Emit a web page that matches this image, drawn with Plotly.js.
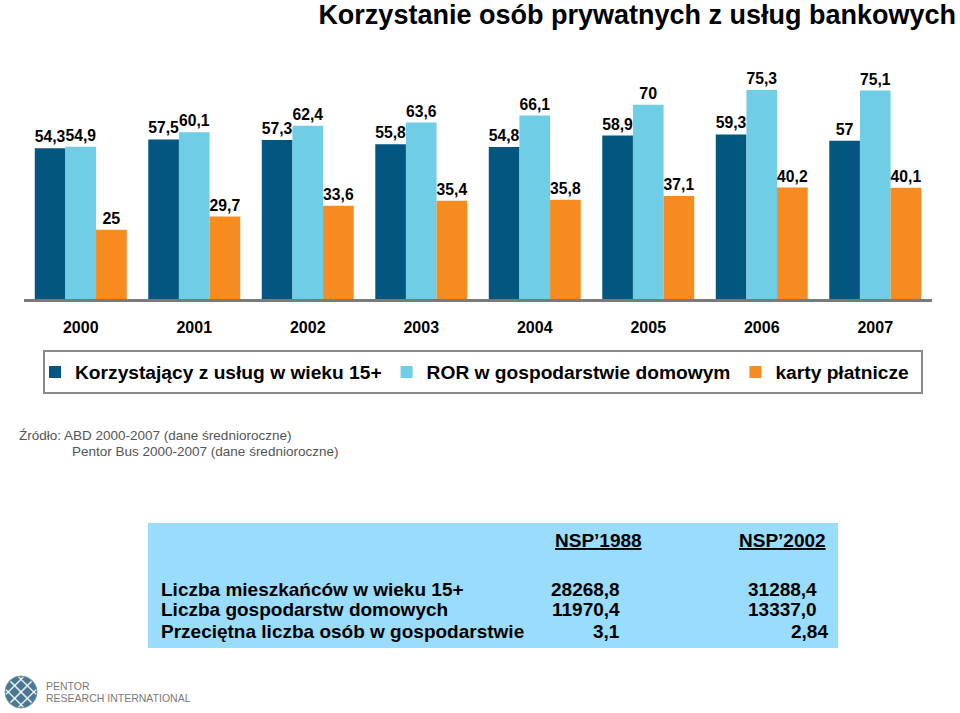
<!DOCTYPE html>
<html>
<head>
<meta charset="utf-8">
<script src="https://cdn.plot.ly/plotly-3.0.1.min.js"></script>
<style>html,body{margin:0;padding:0;background:#fff;}#chart{width:960px;height:713px;}</style>
</head>
<body>
<div id="chart"></div>
<script>
// ---- data ----
const years = ['2000', '2001', '2002', '2003', '2004', '2005', '2006', '2007'];
const seriesNames = ['Korzystający z usług w wieku 15+', 'ROR w gospodarstwie domowym', 'karty płatnicze'];
const korzystajacy = [54.3, 57.5, 57.3, 55.8, 54.8, 58.9, 59.3, 57];
const ror = [54.9, 60.1, 62.4, 63.6, 66.1, 70, 75.3, 75.1];
const karty = [25, 29.7, 33.6, 35.4, 35.8, 37.1, 40.2, 40.1];

const chartTitle = 'Korzystanie osób prywatnych z usług bankowych';
const sourceLines = ['Źródło: ABD 2000-2007 (dane średnioroczne)', 'Pentor Bus 2000-2007 (dane średnioroczne)'];

const tableHeaders = ['NSP’1988', 'NSP’2002'];
const tableRowLabels = ['Liczba mieszkańców w wieku 15+', 'Liczba gospodarstw domowych', 'Przeciętna liczba osób w gospodarstwie'];
const nsp1988 = ['28268,8', '11970,4', '3,1'];
const nsp2002 = ['31288,4', '13337,0', '2,84'];
const logoLines = ['PENTOR', 'RESEARCH INTERNATIONAL'];

// ---- layout helpers (pixel -> paper) ----
const PL = 24, PR = 932, PT = 77, PB = 299, W = 960, H = 713;
const px = x => (x - PL) / (PR - PL);
const py = y => (PB - y) / (PB - PT);
const FONT = 'Liberation Sans, Arial, Helvetica, sans-serif';
const fmt = v => String(v).replace('.', ',');

const colors = ['#02567F', '#6FCDE5', '#F68B1F'];
const seriesValues = [korzystajacy, ror, karty];

const traces = seriesValues.map((vals, i) => ({
  type: 'bar',
  name: seriesNames[i],
  x: years,
  y: vals,
  text: vals.map(fmt),
  textposition: 'outside',
  textfont: {family: FONT, size: 16, color: '#000', weight: 'bold'},
  cliponaxis: false,
  marker: {color: colors[i], line: {width: 0}},
  hoverinfo: 'x+y+name'
}));

const annotations = [];
const shapes = [];

// legend border box
shapes.push({type: 'rect', xref: 'paper', yref: 'paper', x0: px(44), x1: px(922), y0: py(351), y1: py(393),
  line: {color: '#8a8a8a', width: 2}, fillcolor: 'rgba(0,0,0,0)'});

// source text
annotations.push({xref: 'paper', yref: 'paper', x: px(17), y: py(435), xanchor: 'left', yanchor: 'middle',
  text: sourceLines[0], showarrow: false, font: {family: FONT, size: 13.5, color: '#555'}});
annotations.push({xref: 'paper', yref: 'paper', x: px(70), y: py(451), xanchor: 'left', yanchor: 'middle',
  text: sourceLines[1], showarrow: false, font: {family: FONT, size: 13.5, color: '#555'}});

// table background
shapes.push({type: 'rect', xref: 'paper', yref: 'paper', x0: px(148), x1: px(838), y0: py(523), y1: py(648),
  line: {width: 0}, fillcolor: '#9ADCFB', layer: 'below'});

const tFont = {family: FONT, size: 19, color: '#000', weight: 'bold'};
// headers
[553, 737].forEach((x, i) => annotations.push({xref: 'paper', yref: 'paper', x: px(x), y: py(540), xanchor: 'left', yanchor: 'middle',
  text: '<u>' + tableHeaders[i] + '</u>', showarrow: false, font: tFont}));
const rowY = [589, 610, 631];
tableRowLabels.forEach((t, r) => annotations.push({xref: 'paper', yref: 'paper', x: px(159), y: py(rowY[r]), xanchor: 'left', yanchor: 'middle',
  text: t, showarrow: false, font: tFont}));
// decimal-aligned numeric columns
const commaX = [605, 802], commaW = 5.3, digitW = 10.6;
[nsp1988, nsp2002].forEach((col, c) => col.forEach((v, r) => {
  const nFrac = v.split(',')[1].length;
  annotations.push({xref: 'paper', yref: 'paper', x: px(commaX[c] + commaW + nFrac * digitW + 1), y: py(rowY[r]),
    xanchor: 'right', yanchor: 'middle', text: v, showarrow: false, font: tFont});
}));

// logo
const cx = 21, cy = 692, rr = 16;
shapes.push({type: 'circle', xref: 'paper', yref: 'paper', x0: px(cx - rr), x1: px(cx + rr), y0: py(cy + rr), y1: py(cy - rr),
  fillcolor: '#4A7892', line: {color: '#6f97ab', width: 1}});
[-9, 0, 9].forEach(d => {
  const half = Math.sqrt(rr * rr - d * d) - 1;
  const s = Math.SQRT1_2;
  let ox = cx + d * s, oy = cy - d * s;
  shapes.push({type: 'line', xref: 'paper', yref: 'paper', x0: px(ox - half * s), y0: py(oy - half * s), x1: px(ox + half * s), y1: py(oy + half * s),
    line: {color: 'rgba(255,255,255,0.85)', width: 1.5}});
  ox = cx + d * s; oy = cy + d * s;
  shapes.push({type: 'line', xref: 'paper', yref: 'paper', x0: px(ox - half * s), y0: py(oy + half * s), x1: px(ox + half * s), y1: py(oy - half * s),
    line: {color: 'rgba(255,255,255,0.85)', width: 1.5}});
});
annotations.push({xref: 'paper', yref: 'paper', x: px(44), y: py(686), xanchor: 'left', yanchor: 'middle',
  text: logoLines[0], showarrow: false, font: {family: FONT, size: 10.5, color: '#7a7a7a'}});
annotations.push({xref: 'paper', yref: 'paper', x: px(44), y: py(698), xanchor: 'left', yanchor: 'middle',
  text: logoLines[1], showarrow: false, font: {family: FONT, size: 10.5, color: '#7a7a7a'}});

const layout = {
  width: W, height: H,
  margin: {l: PL, r: W - PR, t: PT, b: H - PB, autoexpand: false},
  paper_bgcolor: '#fff', plot_bgcolor: '#fff',
  font: {family: FONT, color: '#000'},
  separators: ', ',
  title: {text: chartTitle, xref: 'container', yref: 'container', x: 956 / W, xanchor: 'right', y: 1 - 15 / H, yanchor: 'middle',
    font: {family: FONT, size: 27, color: '#000', weight: 'bold'}},
  barmode: 'group', bargap: 0.19, bargroupgap: 0,
  xaxis: {type: 'category', showline: true, linecolor: '#7a7a7a', linewidth: 3, showgrid: false, zeroline: false,
    ticks: 'outside', ticklen: 12, tickcolor: 'rgba(0,0,0,0)',
    tickfont: {family: FONT, size: 16, color: '#000', weight: 'bold'}, fixedrange: true},
  yaxis: {range: [0, 80], visible: false, showgrid: false, zeroline: false, fixedrange: true},
  showlegend: true,
  legend: {orientation: 'h', xref: 'container', yref: 'container', x: 35 / W, xanchor: 'left', y: 1 - 372 / H, yanchor: 'middle',
    bgcolor: 'rgba(0,0,0,0)', borderwidth: 0, itemclick: false, itemdoubleclick: false,
    font: {family: FONT, size: 19.2, color: '#000', weight: 'bold'}, traceorder: 'normal'},
  shapes: shapes,
  annotations: annotations
};

Plotly.newPlot('chart', traces, layout, {displayModeBar: false, staticPlot: true});
</script>
</body>
</html>
